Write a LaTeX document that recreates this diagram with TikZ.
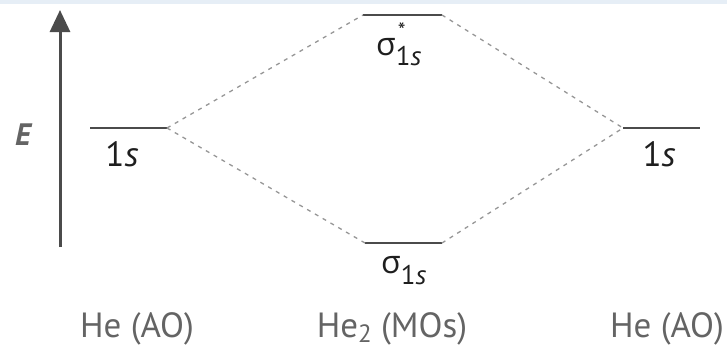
\documentclass[tikz,border=0pt]{standalone}
\usepackage{fontspec}
\setmainfont{PT Sans}
\newfontfamily\gk{Open Sans}
\usetikzlibrary{arrows.meta}
\definecolor{band}{RGB}{230,238,246}
\definecolor{lvl}{RGB}{75,75,75}
\definecolor{dsh}{RGB}{150,150,150}
\definecolor{lbl}{RGB}{100,100,100}
\definecolor{ink}{RGB}{30,30,30}
\begin{document}
\begin{tikzpicture}[x=1pt,y=-1pt,
  level/.style={draw=lvl,line width=2.6pt},
  conn/.style={draw=dsh,line width=1.3pt,dash pattern=on 4pt off 5pt},
  txt/.style={inner sep=0pt,text=ink},
  bottomlbl/.style={inner sep=0pt,anchor=base,text=lbl,font=\fontsize{35}{40}\selectfont}]
\useasboundingbox (0,0) rectangle (727,349);
\fill[band] (0,0) rectangle (727,4);
% energy axis
\coordinate (abot) at (60,247);
\coordinate (atop) at (60,10);
\draw[draw=lvl,line width=3pt,-{Triangle[length=22pt,width=20pt]}] (abot) -- (atop);
\node[inner sep=0pt,anchor=base,text=lbl,font=\bfseries\itshape\fontsize{31}{34}\selectfont] (E) at (23,145) {E};
% levels
\coordinate (L1l) at (90,128);  \coordinate (L1r) at (167,128);
\coordinate (R1l) at (623,128); \coordinate (R1r) at (700,128);
\coordinate (SSl) at (363,15);  \coordinate (SSr) at (442,15);
\coordinate (Sl) at (365,243);  \coordinate (Sr) at (442,243);
\draw[level] (L1l) -- (L1r);
\draw[level] (R1l) -- (R1r);
\draw[level] (SSl) -- (SSr);
\draw[level] (Sl) -- (Sr);
% connectors
\draw[conn] (L1r) -- (SSl);
\draw[conn] (L1r) -- (Sl);
\draw[conn] (SSr) -- (R1l);
\draw[conn] (Sr) -- (R1l);
% level labels
\node[txt,anchor=base,font=\fontsize{35}{40}\selectfont] (l1s) at (122,166) {1\textit{s}};
\node[txt,anchor=base,font=\fontsize{35}{40}\selectfont] (r1s) at (659,166) {1\textit{s}};
\node[txt,anchor=base west] (sigstar) at (376,55) {{\gk\fontsize{32}{36}\selectfont σ}\rlap{\hspace{2pt}\raisebox{17pt}{\fontsize{22}{24}\selectfont *}}\raisebox{-10pt}{\fontsize{27}{30}\selectfont 1\textit{s}}};
\node[txt,anchor=base west] (sig) at (381,273) {{\gk\fontsize{32}{36}\selectfont σ}\raisebox{-11pt}{\fontsize{27}{30}\selectfont 1\textit{s}}};
% bottom labels
\node[bottomlbl] (heL) at (137,337) {He (AO)};
\node[bottomlbl] (he2) at (392,337) {He\raisebox{-5pt}{\fontsize{25}{28}\selectfont 2} (MOs)};
\node[bottomlbl] (heR) at (667,337) {He (AO)};
\end{tikzpicture}
\end{document}
